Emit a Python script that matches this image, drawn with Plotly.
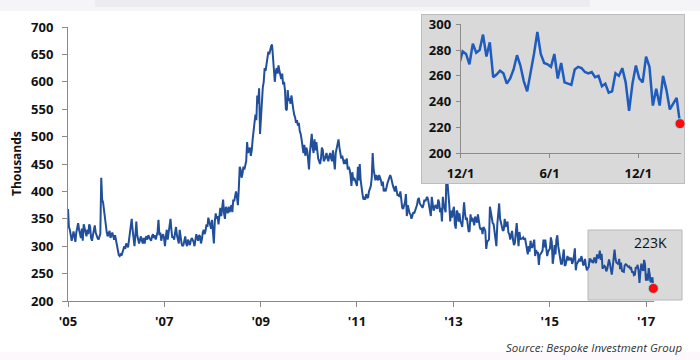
import pandas as pd
import plotly.graph_objects as go

# ---------------- data (weekly initial claims, thousands) ----------------
claims_2005 = [368, 335, 330, 322, 310, 318, 327, 318, 308, 325,
               336, 342, 330, 320, 315, 332, 310, 340, 332, 322,
               318, 330, 322, 340, 335, 315, 310, 320, 330, 338,
               325, 318, 315, 312, 318, 322,
               425, 385, 380, 365, 345, 330, 325, 318, 322, 328, 315, 322, 325, 318, 312, 320, 310]
claims_2006 = [300, 290, 284, 282, 285, 283, 290, 295, 300, 295,
               305, 302, 298, 310, 322, 335, 350, 330, 305, 300,
               320, 345, 320, 308, 305, 312, 318, 310, 305, 315,
               305, 315, 318, 312, 320, 316, 312, 310, 318, 322,
               315, 320, 312, 318, 326, 348, 320, 325, 310, 318,
               322, 315]
claims_2007 = [300, 318, 330, 312, 325, 340, 350, 330, 315, 318,
               312, 325, 335, 320, 310, 305, 330, 312, 305, 300,
               302, 310, 318, 305, 300, 312, 308, 302, 310, 315,
               312, 308, 300, 318, 322, 315, 310, 320, 318, 305,
               312, 325, 330, 322, 328, 340, 335, 352, 345, 340,
               332, 348]
claims_2008 = [325, 305, 345, 360,
               350, 355, 340, 365,
               370, 355, 378, 385, 360,
               350, 372, 365, 360,
               372, 362, 368, 375, 362,
               385, 382, 392, 400,
               390, 375, 405, 445,
               440, 425, 432, 445, 440,
               450, 455, 490, 470,
               475, 480, 465, 475,
               495, 510, 535, 540, 530,
               575, 560, 588, 505]
claims_2009 = [530, 575, 590, 600, 625,
               620, 630, 645, 655,
               650, 660, 665, 668,
               650, 630, 600, 618,
               625, 615, 630, 620, 610,
               605, 615, 595, 600,
               585, 550, 548, 585,
               565, 570, 560, 575, 555,
               550, 540, 535, 525,
               530, 520, 525, 510, 505,
               495, 480, 470, 485,
               465, 480, 475, 460]
claims_2010 = [440, 470, 485, 505, 480,
               470, 495, 475, 490,
               465, 460, 455, 450,
               460, 480, 475, 455,
               458, 465, 470, 460, 455,
               465, 470, 460, 455,
               475, 450, 440, 470, 480,
               488, 495, 480, 470,
               460, 465, 455, 450,
               458, 450, 460, 440, 445,
               440, 430, 410, 435,
               420, 425, 418, 415]
claims_2011 = [410, 445, 420, 450, 420,
               400, 395, 385, 390,
               385, 395, 390, 388,
               400, 405, 410, 425, 470,
               440, 425, 420, 430,
               425, 420, 430, 425,
               420, 410, 418, 400, 405,
               400, 410, 415, 420,
               425, 430, 425, 415,
               410, 405, 400, 410, 398,
               392, 395, 390, 400,
               385, 370, 368, 375, 380]
claims_2012 = [395, 355, 375, 365,
               360, 358, 350, 355,
               362, 360, 365, 370, 375,
               385, 388, 378, 375,
               372, 370, 375, 385,
               382, 388, 390, 385, 375,
               370, 355, 390, 375,
               365, 370, 375, 372,
               368, 385, 380, 362, 370,
               345, 390, 375, 370,
               362, 440, 410, 395,
               375, 345, 365, 352, 365]
claims_2013 = [372, 340, 332, 365,
               362, 345, 360, 345,
               342, 335, 355, 380, 360,
               348, 352, 340, 326,
               328, 358, 345, 352,
               346, 338, 354, 345, 343,
               358, 343, 335, 330,
               334, 322, 335, 332, 328,
               295, 308, 310, 312,
               372, 360, 350, 342,
               340, 325, 318, 300, 340,
               370, 378, 350, 340]
claims_2014 = [332, 328, 330, 350,
               335, 340, 345, 325,
               322, 312, 322, 328, 312,
               302, 306, 330, 342,
               320, 300, 326, 312, 314,
               314, 316, 312, 315,
               305, 302, 285, 300,
               290, 310, 298, 298, 304,
               312, 282, 293, 288,
               288, 266, 284, 286,
               290, 292, 312, 298, 312,
               295, 282, 290, 295]
claims_2015 = [296, 316, 308, 268, 280,
               302, 285, 312, 320,
               300, 290, 282, 268,
               268, 282, 294, 264,
               266, 275, 282, 274, 278,
               276, 279, 268, 272,
               282, 296, 256, 268,
               270, 274, 277, 272, 282,
               276, 265, 267, 277,
               264, 256, 260, 262, 276,
               276, 272, 273, 269,
               279, 277, 269, 285]
claims_2016 = [278, 280, 292, 275, 286,
               259, 261, 264, 262,
               254, 258, 265, 276,
               268, 256, 248, 262, 277,
               294, 277, 270, 269,
               267, 277, 258, 270,
               255, 254, 253, 265, 267,
               266, 263, 262, 263,
               259, 260, 252, 254,
               247, 248, 262, 260, 266,
               255, 233, 254, 268,
               258, 255, 275, 267, 237]
claims_2017 = [250, 237, 260, 249, 234, 239, 243, 223]

first_week = "2005-01-01"
inset_first = "2015-11-28"
main_x_range = ["2005-01-01", "2017-03-02"]
main_y_range = [200, 700]
inset_x_range = ["2015-12-01", "2017-02-27"]
inset_y_range = [200, 300]
inset_tickvals = ["2015-12-01", "2016-06-01", "2016-12-01"]
latest_label = "223K"
y_title = "Thousands"
source_text = "Source: Bespoke Investment Group"

values = (claims_2005 + claims_2006 + claims_2007 + claims_2008 + claims_2009 +
          claims_2010 + claims_2011 + claims_2012 + claims_2013 + claims_2014 +
          claims_2015 + claims_2016 + claims_2017)
dates = pd.date_range(first_week, periods=len(values), freq="7D")
inset_dates = [d for d in dates if d >= pd.Timestamp(inset_first)]
inset_values = [v for d, v in zip(dates, values) if d >= pd.Timestamp(inset_first)]

# ---------------- layout helpers (pixel -> paper) ----------------
W, H = 700, 360
def px(x):
    return x / W
def py(y):
    return 1 - y / H

MAIN_BLUE = "#214f9b"
INSET_BLUE = "#1f5cbf"
AXIS_GRAY = "#8a8a8a"
BOX_GRAY = "#d9d9d9"
FONT = "Open Sans"
tickfont = dict(family=FONT, size=13, color="#111111", weight="bold")

fig = go.Figure()
fig.add_trace(go.Scatter(x=dates, y=values, mode="lines",
                         line=dict(color=MAIN_BLUE, width=2), xaxis="x", yaxis="y",
                         hoverinfo="skip"))
fig.add_trace(go.Scatter(x=[dates[-1]], y=[values[-1]], mode="markers",
                         marker=dict(color="#ff0a0a", size=10,
                                     line=dict(color="rgba(140,230,240,0.9)", width=1)),
                         cliponaxis=False, xaxis="x", yaxis="y", hoverinfo="skip"))
# empty trace: gives the gray inset frame its own subplot
fig.add_trace(go.Scatter(x=[], y=[], xaxis="x2", yaxis="y2", hoverinfo="skip"))
fig.add_trace(go.Scatter(x=inset_dates, y=inset_values, mode="lines",
                         line=dict(color=INSET_BLUE, width=2.5), xaxis="x3", yaxis="y3",
                         hoverinfo="skip"))
fig.add_trace(go.Scatter(x=[inset_dates[-1]], y=[inset_values[-1]], mode="markers",
                         marker=dict(color="#ff0a0a", size=10,
                                     line=dict(color="rgba(140,230,240,0.9)", width=1)),
                         cliponaxis=False, xaxis="x3", yaxis="y3", hoverinfo="skip"))

common = dict(showgrid=False, zeroline=False, showline=True, linecolor=AXIS_GRAY,
              linewidth=1, ticks="outside", tickcolor=AXIS_GRAY, tickfont=tickfont,
              automargin=False)
frame = dict(showgrid=False, zeroline=False, showline=True, mirror=True,
             linecolor="#bdbdbd", showticklabels=False, ticks="", fixedrange=True,
             automargin=False)

fig.update_layout(
    width=W, height=H, margin=dict(l=0, r=0, t=0, b=0, pad=0, autoexpand=False),
    paper_bgcolor="white", plot_bgcolor=BOX_GRAY, showlegend=False,
    xaxis=dict(domain=[px(68), px(654)], anchor="y", type="date", range=main_x_range,
               tick0="2005-01-01", dtick="M24", tickformat="'%y", ticklen=5,
               ticklabelstandoff=3, **common),
    yaxis=dict(domain=[py(301), py(27)], anchor="x", range=main_y_range, dtick=50,
               ticklen=5, ticklabelstandoff=6, **common),
    xaxis2=dict(domain=[px(422), px(684)], anchor="y2", **frame),
    yaxis2=dict(domain=[py(183), py(15)], anchor="x2", **frame),
    xaxis3=dict(domain=[px(460.7), px(681)], anchor="y3", type="date", range=inset_x_range,
                tickvals=inset_tickvals, tickformat="%-m/%-d", ticklen=4,
                ticklabelstandoff=4, **common),
    yaxis3=dict(domain=[py(153.3), py(24.3)], anchor="x3", range=inset_y_range, dtick=20,
                ticklen=4, ticklabelstandoff=2, **common),
    shapes=[
        dict(type="rect", xref="paper", yref="paper", x0=0, x1=1, y0=0, y1=1,
             fillcolor="white", line=dict(width=0), layer="below"),
        dict(type="rect", xref="paper", yref="paper", x0=0, x1=1, y0=py(11), y1=1,
             fillcolor="#f5f5f7", line=dict(width=0), layer="below"),
        dict(type="rect", xref="paper", yref="paper", x0=px(95), x1=px(590), y0=py(7), y1=1,
             fillcolor="#ececf0", line=dict(width=0), layer="below"),
        dict(type="rect", xref="paper", yref="paper", x0=0, x1=1, y0=0, y1=py(352),
             fillcolor="#fcf8fc", line=dict(width=0), layer="below"),
        dict(type="rect", xref="paper", yref="paper", x0=px(588), x1=px(682),
             y0=py(300), y1=py(230), fillcolor=BOX_GRAY,
             line=dict(color="#b8b8b8", width=1), layer="below"),
    ],
    annotations=[
        dict(text=latest_label, xref="paper", yref="paper", x=px(650), y=py(242),
             xanchor="center", yanchor="middle", showarrow=False,
             font=dict(family=FONT, size=14, color="#111111")),
        dict(text=y_title, xref="paper", yref="paper", x=px(17), y=py(164), textangle=-90,
             xanchor="center", yanchor="middle", showarrow=False,
             font=dict(family=FONT, size=12, color="#111111", weight="bold")),
        dict(text="<i>" + source_text + "</i>", xref="paper", yref="paper", x=px(684),
             y=py(347), xanchor="right", yanchor="middle", showarrow=False,
             font=dict(family=FONT, size=11.5, color="#333333")),
    ],
)

fig.write_html("out.html", config={"displayModeBar": False},
               post_script="document.body.style.margin='0';document.body.style.overflow='hidden';")
